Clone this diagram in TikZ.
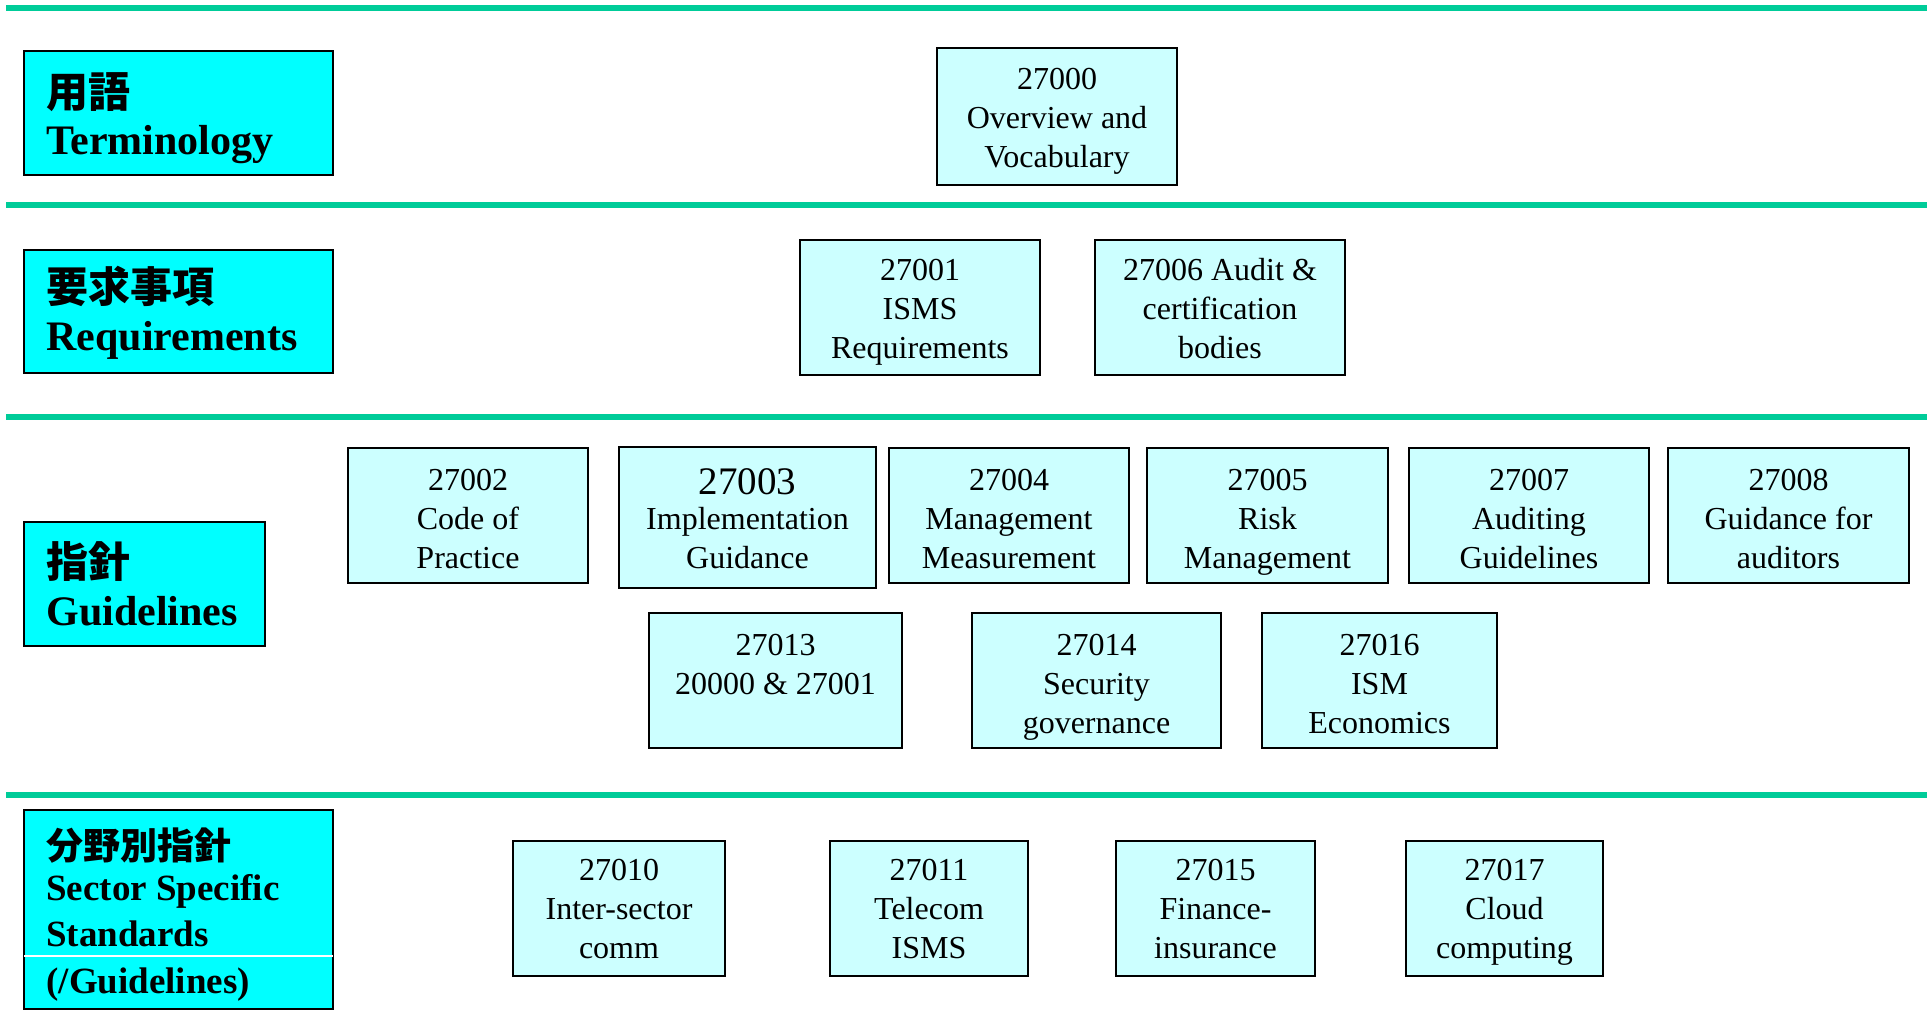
\documentclass[tikz,border=0pt]{standalone}
\usepackage{fontspec}
\setmainfont{Liberation Serif}
\newfontfamily\cjk{Noto Sans CJK JP}
\definecolor{sepgreen}{RGB}{0,204,153}
\definecolor{lcyan}{RGB}{204,255,255}
\definecolor{hcyan}{RGB}{0,255,255}
\tikzset{
  cbox/.style={draw=black, line width=1pt, fill=lcyan, inner sep=0pt},
  ctxt/.style={inner sep=0pt, align=center, font=\fontsize{16}{19.5}\selectfont},
  lbox/.style={draw=black, line width=1pt, fill=hcyan, inner sep=0pt},
  ltxt/.style={anchor=base west, inner sep=0pt, font=\fontsize{21}{23}\selectfont\bfseries},
  stxt/.style={anchor=base west, inner sep=0pt, font=\fontsize{18.5}{22}\selectfont\bfseries},
  sepline/.style={draw=sepgreen, line width=3pt}
}
% \cbx[text shift px]{name}{x1}{y1}{x2}{y2}{text}
\newcommand\cbx[7][5]{%
  \node[cbox, minimum width={(#5-#3)*0.5pt}, minimum height={(#6-#4)*0.5pt}] (#2) at ({(#3+#5)/2},{(#4+#6)/2}) {};
  \node[ctxt] (#2-t) at ({(#3+#5)/2},{(#4+#6)/2+#1}) {\strut#7\strut};}
\newcommand\lbx[5]{\node[lbox, minimum width={(#4-#2)*0.5pt}, minimum height={(#5-#3)*0.5pt}] (#1) at ({(#2+#4)/2},{(#3+#5)/2}) {};}
\begin{document}
\begin{tikzpicture}[x=0.5pt,y=-0.5pt]
\useasboundingbox (0,0) rectangle (1930,1013);
% separator lines
\coordinate (s1a) at (6,8.3);   \coordinate (s1b) at (1927,8.3);
\coordinate (s2a) at (6,205);   \coordinate (s2b) at (1927,205);
\coordinate (s3a) at (6,417);   \coordinate (s3b) at (1927,417);
\coordinate (s4a) at (6,794.5); \coordinate (s4b) at (1927,794.5);
\draw[sepline] (s1a) -- (s1b);
\draw[sepline] (s2a) -- (s2b);
\draw[sepline] (s3a) -- (s3b);
\draw[sepline] (s4a) -- (s4b);
% left category boxes
\lbx{term}{24}{51}{333}{175}
\node[ltxt] (term-cjk) at (46,107) {\cjk\bfseries 用語};
\node[ltxt] (term-en) at (46,154) {Terminology};
\lbx{req}{24}{250}{333}{373}
\node[ltxt] (req-cjk) at (46,302) {\cjk\bfseries 要求事項};
\node[ltxt] (req-en) at (46,350) {Requirements};
\lbx{guid}{24}{522}{265}{646}
\node[ltxt] (guid-cjk) at (46,577) {\cjk\bfseries 指針};
\node[ltxt] (guid-en) at (46,625) {Guidelines};
\lbx{sect}{24}{810}{333}{1009}
\node[stxt] (sect-cjk) at (46,859) {\cjk\bfseries 分野別指針};
\node[stxt] (sect-en1) at (46,900) {Sector Specific};
\node[stxt] (sect-en2) at (46,946) {Standards};
\node[stxt] (sect-en3) at (46,993) {(/Guidelines)};
\coordinate (wl) at (24,956); \coordinate (wr) at (333,956);
\draw[white, line width=0.6pt] (wl) -- (wr);
% terminology
\cbx[4]{n27000}{937}{48}{1177}{185}{27000\\Overview and\\Vocabulary}
% requirements
\cbx[4.5]{n27001}{800}{240}{1040}{375}{27001\\ISMS\\Requirements}
\cbx[4.5]{n27006}{1095}{240}{1345}{375}{27006 Audit \&\\certification\\bodies}
% guidelines row 1
\cbx[5.7]{n27002}{348}{448}{588}{583}{27002\\Code of\\Practice}
\cbx[6.2]{n27003}{619}{447}{876}{588}{{\fontsize{19.5}{20}\selectfont 27003}\\[-2pt]Implementation\\Guidance}
\cbx[5.7]{n27004}{889}{448}{1129}{583}{27004\\Management\\Measurement}
\cbx[5.7]{n27005}{1147}{448}{1388}{583}{27005\\Risk\\Management}
\cbx[5.7]{n27007}{1409}{448}{1649}{583}{27007\\Auditing\\Guidelines}
\cbx[5.7]{n27008}{1668}{448}{1909}{583}{27008\\Guidance for\\auditors}
% guidelines row 2
\cbx[5.7]{n27013}{649}{613}{902}{748}{27013\\20000 \& 27001\\\mbox{}}
\cbx[5.7]{n27014}{972}{613}{1221}{748}{27014\\Security\\governance}
\cbx[5.7]{n27016}{1262}{613}{1497}{748}{27016\\ISM\\Economics}
% sector specific
\cbx[3.2]{n27010}{513}{841}{725}{976}{27010\\Inter-sector\\comm}
\cbx[3.2]{n27011}{830}{841}{1028}{976}{27011\\Telecom\\ISMS}
\cbx[3.2]{n27015}{1116}{841}{1315}{976}{27015\\Finance-\\insurance}
\cbx[3.2]{n27017}{1406}{841}{1603}{976}{27017\\Cloud\\computing}
\end{tikzpicture}
\end{document}
